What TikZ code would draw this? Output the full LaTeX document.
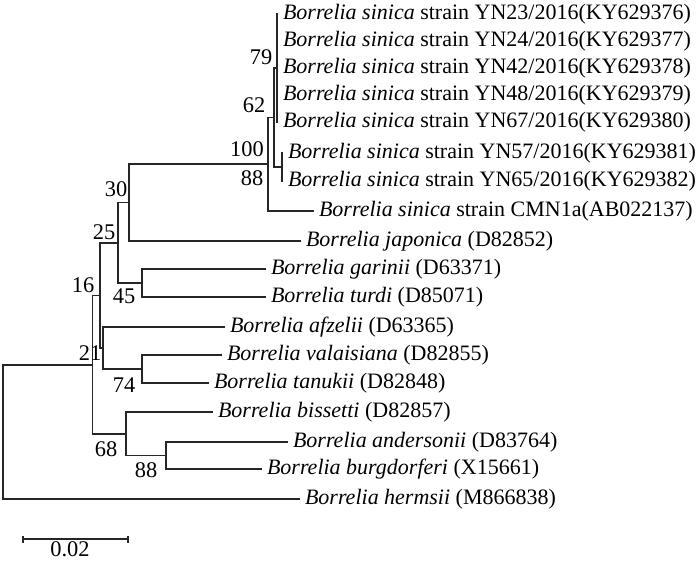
\documentclass[tikz,border=0pt]{standalone}
\usepackage{fontspec}
\setmainfont{Liberation Serif}
\begin{document}
\begin{tikzpicture}[x=1pt,y=-1pt,
  br/.style={line width=1.2pt, draw=black!85},
  leaf/.style={anchor=west, inner sep=0pt, outer xsep=5pt, font=\fontsize{22}{24}\selectfont},
  boot/.style={inner sep=0pt, font=\fontsize{22.4}{24}\selectfont}]
\useasboundingbox (0,0) rectangle (700,560);
% leaves
\node[leaf] (l1) at (278,14) {\textit{Borrelia sinica} strain YN23/2016(KY629376)};
\node[leaf] (l2) at (278,41) {\textit{Borrelia sinica} strain YN24/2016(KY629377)};
\node[leaf] (l3) at (278,68) {\textit{Borrelia sinica} strain YN42/2016(KY629378)};
\node[leaf] (l4) at (278,95) {\textit{Borrelia sinica} strain YN48/2016(KY629379)};
\node[leaf] (l5) at (278,122) {\textit{Borrelia sinica} strain YN67/2016(KY629380)};
\node[leaf] (l6) at (283,153) {\textit{Borrelia sinica} strain YN57/2016(KY629381)};
\node[leaf] (l7) at (283,181) {\textit{Borrelia sinica} strain YN65/2016(KY629382)};
\node[leaf] (l8) at (314,211) {\textit{Borrelia sinica} strain CMN1a(AB022137)};
\node[leaf] (l9) at (301,241) {\textit{Borrelia japonica} (D82852)};
\node[leaf] (l10) at (266,269) {\textit{Borrelia garinii} (D63371)};
\node[leaf] (l11) at (266,297) {\textit{Borrelia turdi} (D85071)};
\node[leaf] (l12) at (225,327) {\textit{Borrelia afzelii} (D63365)};
\node[leaf] (l13) at (222,355) {\textit{Borrelia valaisiana} (D82855)};
\node[leaf] (l14) at (209,383) {\textit{Borrelia tanukii} (D82848)};
\node[leaf] (l15) at (213,412) {\textit{Borrelia bissetti} (D82857)};
\node[leaf] (l16) at (288,442) {\textit{Borrelia andersonii} (D83764)};
\node[leaf] (l17) at (262,469) {\textit{Borrelia burgdorferi} (X15661)};
\node[leaf] (l18) at (300,499) {\textit{Borrelia hermsii} (M866838)};
% internal nodes
\coordinate (P) at (277,68);
\coordinate (Q) at (282,167);
\coordinate (A) at (274,117.5);
\coordinate (B) at (268,164);
\coordinate (N30) at (129,202.5);
\coordinate (N45) at (142,283);
\coordinate (N25) at (118,243);
\coordinate (N74) at (142,369);
\coordinate (Naf) at (103,348);
\coordinate (N16) at (100,295.5);
\coordinate (N88) at (166,455.5);
\coordinate (N68) at (126,434);
\coordinate (N21) at (92.5,365);
\coordinate (R) at (3,432);
% branches
\draw[br] (l1.west) -| (P) |- (l5.west);
\foreach \i in {2,3,4} \draw[br] (P) |- (l\i.west);
\draw[br] (l6.west) -| (Q) |- (l7.west);
\draw[br] (P) -| (A) |- (Q);
\draw[br] (A) -| (B) |- (l8.west);
\draw[br] (B) -| (N30) |- (l9.west);
\draw[br] (l10.west) -| (N45) |- (l11.west);
\draw[br] (N30) -| (N25) |- (N45);
\draw[br] (l13.west) -| (N74) |- (l14.west);
\draw[br] (l12.west) -| (Naf) |- (N74);
\draw[br] (N25) -| (N16) |- (Naf);
\draw[br] (l16.west) -| (N88) |- (l17.west);
\draw[br] (l15.west) -| (N68) |- (N88);
\draw[br] (N16) -| (N21) |- (N68);
\draw[br] (N21) -| (R) |- (l18.west);
% bootstrap values
\node[boot] (b79) at (261,57) {79};
\node[boot] (b62) at (254,105) {62};
\node[boot] (b100) at (247,149) {100};
\node[boot] (b88a) at (252,178) {88};
\node[boot] (b30) at (116,189) {30};
\node[boot] (b25) at (104,232) {25};
\node[boot] (b16) at (83,285) {16};
\node[boot] (b45) at (124,296) {45};
\node[boot] (b21) at (90,353) {21};
\node[boot] (b74) at (124,385) {74};
\node[boot] (b68) at (106,449) {68};
\node[boot] (b88b) at (146,470) {88};
% scale bar
\coordinate (s1) at (23,539);
\coordinate (s2) at (128,539);
\draw[br] (s1) -- (s2);
\draw[br] ([yshift=-3.5pt]s1) -- ([yshift=3.5pt]s1);
\draw[br] ([yshift=-3.5pt]s2) -- ([yshift=3.5pt]s2);
\node[boot] (sl) at (70,549) {0.02};
\end{tikzpicture}
\end{document}
